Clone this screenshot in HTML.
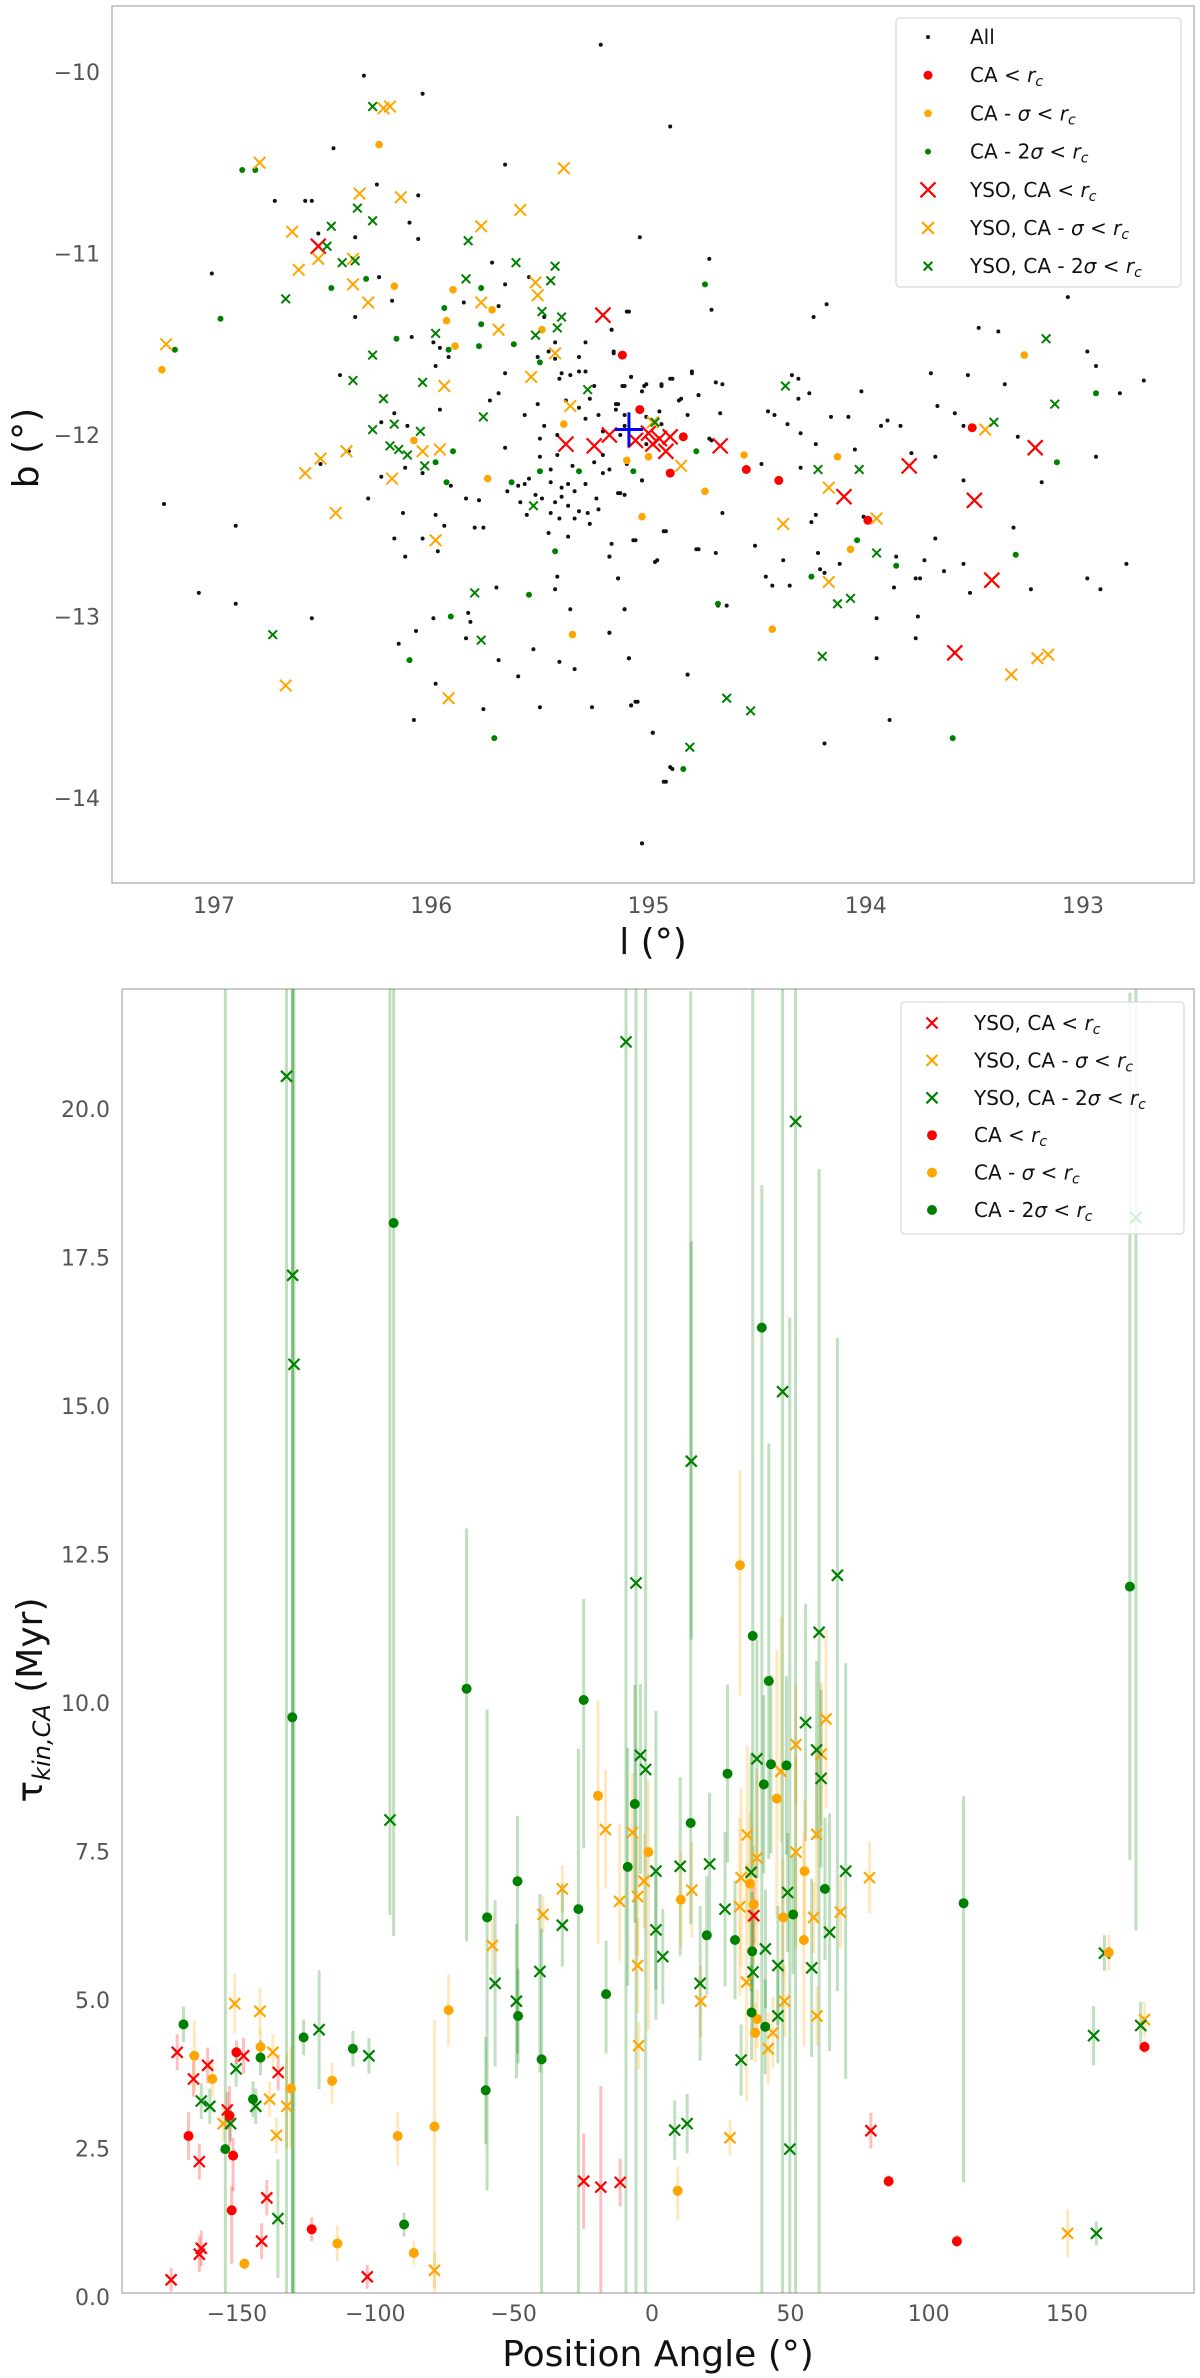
<!DOCTYPE html>
<html><head><meta charset="utf-8"><style>
html,body{margin:0;padding:0;background:#fff;}
svg{display:block;font-family:"DejaVu Sans","Liberation Sans",sans-serif;}
</style></head><body>
<svg id="fig" width="1200" height="2378" viewBox="0 0 1200 2378" xmlns="http://www.w3.org/2000/svg">
<defs>
<clipPath id="clipTop"><rect x="112" y="6" width="1082" height="877"/></clipPath>
<clipPath id="clipBot"><rect x="122" y="989" width="1072" height="1304"/></clipPath>
</defs>
<g id="top">
<rect x="112" y="6" width="1082" height="877" fill="#fff" stroke="#b8b8b8" stroke-width="1.5"/>
<g id="topMarks" clip-path="url(#clipTop)"></g>
<g id="topTicks" fill="#555" font-size="22"></g>
<text x="653" y="954" font-size="36" text-anchor="middle" fill="#111">l (°)</text>
<text transform="translate(38,448) rotate(-90)" font-size="36" text-anchor="middle" fill="#111">b (°)</text>
<g id="topLegend"></g>
</g>
<g id="bot">
<rect x="122" y="989" width="1072" height="1304" fill="#fff" stroke="#b8b8b8" stroke-width="1.5"/>
<g id="botMarks" clip-path="url(#clipBot)"></g>
<g id="botTicks" fill="#555" font-size="22"></g>
<text x="658" y="2366" font-size="36" text-anchor="middle" fill="#111">Position Angle (°)</text>
<text transform="translate(42,1700) rotate(-90)" font-size="36" text-anchor="middle" fill="#111"><tspan>τ</tspan><tspan font-size="24" font-style="italic" dy="8">kin,CA</tspan><tspan dy="-8"> (Myr)</tspan></text>
<g id="botLegend"></g>
</g>
</svg>
<script>
// ===== TOP PANEL DATA (l, b in degrees) =====
const allL=[195.22,196.31,196.04,194.90,196.45,195.66,196.72,196.58,196.55,196.25,196.06,196.10,196.06,195.04,196.52,196.35,197.01,196.24,196.18,196.35,195.72,195.66,195.55,195.85,195.69,196.09,195.99,195.96,195.98,195.92,195.66,195.69,195.73,195.96,196.42,195.46,195.43,195.51,195.29,195.32,195.17,195.10,195.16,195.40,195.36,195.32,195.29,195.41,195.25,195.27,195.12,195.08,195.02,195.03,194.94,194.90,194.80,194.86,194.77,195.15,195.32,195.29,195.23,195.38,195.51,195.57,195.48,195.42,195.21,195.13,195.15,195.11,194.95,194.72,195.50,195.50,195.66,195.42,195.45,195.35,195.25,195.21,195.21,195.18,195.10,195.03,195.14,195.11,195.45,195.40,195.37,195.34,195.29,195.24,195.23,195.28,195.32,195.37,195.40,195.43,195.45,195.49,195.52,195.57,195.55,195.65,195.60,195.59,195.56,195.41,195.34,195.27,195.46,195.37,195.17,195.07,194.93,194.78,194.97,195.18,195.14,195.42,195.43,195.36,195.11,195.18,195.53,195.41,195.34,195.09,195.60,195.70,195.83,195.82,195.84,195.99,196.07,196.15,195.69,195.98,196.08,195.76,195.50,195.26,195.08,195.06,194.98,194.90,194.93,194.82,195.03,195.76,195.80,195.94,195.98,196.13,196.17,196.04,196.12,195.97,196.29,195.84,195.78,195.91,196.23,196.04,196.12,196.17,196.11,196.23,197.23,196.90,197.07,196.90,196.55,196.38,196.51,195.43,195.48,
194.72,194.71,195.09,195.17,195.16,195.11,195.08,195.01,194.94,194.89,194.80,194.77,194.69,194.66,194.85,195.14,195.11,195.01,194.94,194.82,194.67,194.71,194.45,194.42,194.36,194.34,194.31,194.31,194.26,194.16,194.08,194.02,193.93,193.90,193.84,193.70,193.53,193.36,193.67,193.59,193.55,193.30,193.07,193.48,193.39,192.98,192.94,192.83,192.72,194.18,194.24,195.01,195.03,195.13,194.92,195.06,195.18,194.96,195.14,195.11,195.18,195.09,194.82,195.08,195.05,194.98,194.89,194.92,195.03,194.77,194.69,194.66,194.51,194.48,194.38,194.46,194.43,194.35,194.30,194.23,194.30,194.23,194.25,194.22,194.21,194.19,194.12,194.05,194.01,193.95,193.95,193.87,193.86,193.79,193.77,193.75,193.76,193.77,193.73,193.68,193.68,193.64,193.55,193.55,193.52,193.32,193.24,193.19,192.94,192.98,192.92,192.80,193.89,194.19,194.68,194.64];
const allB=[-9.85,-10.02,-10.12,-10.30,-10.42,-10.51,-10.71,-10.71,-10.71,-10.62,-10.68,-10.83,-10.92,-10.91,-10.89,-10.91,-11.11,-11.13,-11.26,-11.35,-11.05,-11.17,-11.13,-11.27,-11.29,-11.46,-11.49,-11.52,-11.62,-11.57,-11.66,-11.77,-11.81,-11.86,-11.67,-11.54,-11.58,-11.57,-11.49,-11.57,-11.42,-11.32,-11.55,-11.66,-11.67,-11.65,-11.65,-11.69,-11.73,-11.80,-11.73,-11.68,-11.73,-11.76,-11.73,-11.69,-11.66,-11.81,-11.78,-11.83,-11.85,-11.91,-11.89,-11.81,-11.83,-11.89,-11.95,-12.00,-11.98,-12.00,-11.86,-11.95,-11.87,-12.02,-12.02,-12.12,-12.07,-12.11,-12.19,-12.17,-12.15,-12.11,-12.21,-12.19,-12.16,-12.25,-12.32,-12.33,-12.26,-12.29,-12.27,-12.31,-12.27,-12.35,-12.41,-12.43,-12.42,-12.39,-12.34,-12.37,-12.43,-12.35,-12.33,-12.27,-12.24,-12.31,-12.28,-12.37,-12.44,-12.46,-12.46,-12.49,-12.54,-12.56,-12.60,-12.58,-12.53,-12.63,-12.70,-12.67,-12.79,-12.78,-12.85,-12.96,-12.96,-13.09,-13.18,-13.25,-13.29,-13.23,-13.33,-12.84,-12.98,-13.03,-13.12,-13.01,-13.08,-13.15,-13.24,-13.37,-13.57,-13.51,-13.50,-13.50,-13.49,-13.47,-13.64,-13.83,-13.91,-13.32,-14.25,-12.51,-12.51,-12.50,-12.44,-12.43,-12.57,-12.57,-12.67,-12.64,-12.35,-12.35,-12.36,-12.28,-12.23,-12.21,-12.18,-11.88,-11.95,-11.93,-12.38,-12.50,-12.87,-12.93,-13.01,-12.09,-12.16,-11.49,-11.35,
-11.03,-11.31,-11.32,-11.42,-11.54,-11.73,-11.68,-11.72,-11.72,-11.69,-11.65,-11.78,-11.71,-11.72,-11.80,-11.83,-11.89,-11.90,-11.94,-11.89,-11.88,-12.03,-11.87,-11.89,-11.94,-11.67,-11.69,-11.80,-11.77,-11.90,-11.90,-11.76,-11.95,-11.92,-11.95,-11.66,-11.67,-11.72,-11.84,-11.88,-11.95,-12.01,-11.24,-11.41,-11.43,-11.54,-11.62,-11.77,-11.70,-11.28,-11.35,-12.05,-12.25,-12.32,-12.53,-12.58,-12.67,-12.69,-12.79,-12.96,-13.09,-13.23,-13.32,-13.49,-13.47,-13.64,-13.84,-13.91,-14.25,-12.63,-12.65,-12.43,-12.61,-12.16,-12.69,-12.78,-12.83,-12.83,-12.18,-12.05,-11.99,-12.44,-12.48,-12.65,-12.74,-12.76,-12.71,-12.08,-12.45,-13.01,-13.23,-12.84,-12.67,-12.10,-12.79,-12.79,-13.00,-13.12,-12.69,-12.12,-12.57,-12.75,-12.25,-12.71,-12.87,-12.51,-12.85,-12.26,-12.12,-12.79,-12.85,-12.71,-13.57,-13.70,-12.94,-12.94];
const caRedL=[195.12,195.04,194.84,194.90,194.55,194.40,193.99,193.51];
const caRedB=[-11.56,-11.86,-12.01,-12.21,-12.19,-12.25,-12.47,-11.96];
const caOrL=[196.24,196.17,195.90,195.72,195.93,195.89,195.49,197.24,196.08,195.74,195.10,195.00,195.03,195.35,194.74,195.39,193.27,194.56,194.13,194.07,194.43];
const caOrB=[-10.40,-11.18,-11.20,-11.31,-11.37,-11.51,-11.42,-11.64,-12.03,-12.24,-12.14,-12.12,-12.45,-13.10,-12.31,-11.94,-11.56,-12.11,-12.12,-12.63,-13.07];
const caGrL=[196.87,196.81,196.97,197.18,196.46,196.30,196.16,195.94,195.92,195.78,195.77,195.77,195.62,195.50,195.90,195.98,195.93,195.63,195.50,195.32,195.07,194.78,194.74,195.43,195.55,195.91,196.10,195.71,194.84,194.04,193.86,194.25,193.31,193.12,192.94,194.68,193.60];
const caGrB=[-10.54,-10.54,-11.36,-11.53,-11.19,-11.14,-11.47,-11.30,-11.53,-11.51,-11.39,-11.19,-11.50,-11.60,-12.09,-12.15,-12.26,-12.26,-12.20,-12.20,-12.20,-12.09,-11.17,-12.64,-12.88,-13.00,-13.24,-13.67,-13.84,-12.58,-12.72,-12.78,-12.66,-12.15,-11.77,-12.93,-13.67];
const ysoRedL=[196.52,195.21,195.38,195.25,195.18,195.06,195.00,194.95,194.90,194.98,194.92,194.67,193.80,194.10,193.50,193.22,193.42,193.59];
const ysoRedB=[-10.96,-11.34,-12.05,-12.06,-12.00,-12.03,-11.99,-12.02,-12.01,-12.05,-12.09,-12.06,-12.17,-12.34,-12.36,-12.07,-12.80,-13.20];
const ysoOrL=[196.22,196.19,196.79,195.39,196.33,196.14,196.64,195.59,195.77,196.52,196.36,196.61,196.36,196.29,195.77,195.52,195.51,195.69,197.22,195.43,195.54,195.94,195.36,194.98,196.04,195.96,196.39,196.51,196.58,196.18,194.85,196.44,195.98,196.67,195.92,193.45,194.17,193.95,194.38,194.17,193.33,193.21,193.16];
const ysoOrB=[-10.20,-10.19,-10.50,-10.53,-10.67,-10.69,-10.88,-10.76,-10.85,-11.03,-11.03,-11.09,-11.17,-11.27,-11.27,-11.16,-11.23,-11.42,-11.50,-11.55,-11.68,-11.73,-11.84,-11.93,-12.09,-12.08,-12.09,-12.13,-12.21,-12.24,-12.17,-12.43,-12.58,-13.38,-13.45,-11.97,-12.29,-12.46,-12.49,-12.81,-13.32,-13.23,-13.21];
const ysoGrL=[196.27,196.34,196.27,196.46,196.48,196.41,196.35,196.67,195.83,195.84,195.61,195.43,195.45,195.49,195.40,195.42,195.52,195.98,196.27,196.36,196.04,196.22,196.17,196.27,196.05,196.19,196.15,196.11,196.03,195.76,195.28,194.97,195.53,195.80,195.77,196.73,194.81,194.37,194.22,194.03,193.17,193.13,193.41,193.95,194.13,194.07,194.20,194.64,194.53];
const ysoGrB=[-10.19,-10.75,-10.82,-10.85,-10.96,-11.05,-11.04,-11.25,-10.93,-11.14,-11.05,-11.07,-11.15,-11.32,-11.35,-11.41,-11.45,-11.44,-11.56,-11.70,-11.71,-11.80,-11.94,-11.97,-11.98,-12.06,-12.08,-12.11,-12.17,-11.90,-11.75,-11.93,-12.39,-12.87,-13.13,-13.10,-13.72,-11.73,-12.19,-12.19,-11.47,-11.83,-11.93,-12.65,-12.93,-12.90,-13.22,-13.45,-13.52];
const centerLB=[195.09,-11.97];
const centerErr=[0.065,0.095];
const topXTicks=[197,196,195,194,193];
const topYTicks=[-10,-11,-12,-13,-14];

// ===== BOTTOM PANEL DATA (position angle deg, tau Myr, lower/upper errors) =====
const yRedPA=[-171.6,-165.7,-160.6,-147.6,-135.1,-153.5,-163.6,-139.2,-162.9,-163.6,-141.1,-173.8,-102.9,-24.7,-18.5,-11.5,36.8,79.1];
const yRedT=[4.12,3.67,3.90,4.06,3.78,3.15,2.28,1.67,0.82,0.72,0.94,0.29,0.34,1.95,1.85,1.93,6.42,2.80];
const yRedLo=[0.3,0.3,0.3,0.3,0.3,0.3,0.3,0.3,0.3,0.3,0.3,0.2,0.2,0.8,1.85,0.4,0.5,0.3];
const yRedHi=[0.3,0.3,0.3,0.3,0.3,0.3,0.3,0.3,0.3,0.3,0.3,0.2,0.2,0.8,1.7,0.4,0.5,0.3];
const cRedPA=[-167.5,-150.2,-152.7,-151.4,-151.9,-123.0,85.5,110.2,178.0];
const cRedT=[2.71,4.12,3.05,2.38,1.46,1.14,1.95,0.94,4.21];
const cRedLo=[0.4,0.2,0.5,0.6,0.9,0.2,0.1,0.1,0.1];
const cRedHi=[0.4,0.2,0.5,0.3,0.4,0.2,0.1,0.1,0.1];
const yOrPA=[-150.8,-141.7,-137.0,-138.2,-132.0,-155.0,-135.7,-78.6,-57.7,-39.4,-32.4,-16.8,-7.1,-11.7,-5.2,-2.9,-5.2,-4.8,34.4,37.9,32.2,31.7,52.0,62.9,61.1,46.6,59.5,52.0,78.6,58.4,68.1,14.4,34.2,17.6,47.9,59.6,43.7,42.0,28.2,150.2,178.0];
const yOrT=[4.94,4.81,4.12,3.33,3.21,2.92,2.72,0.45,5.92,6.44,6.87,7.87,7.82,6.66,6.74,7.00,5.58,4.23,7.78,7.39,7.06,6.57,9.30,9.73,9.14,8.85,7.79,7.49,7.06,6.39,6.48,6.85,5.30,4.98,4.98,4.73,4.45,4.18,2.68,1.07,4.67];
const yOrLo=[0.5,0.4,0.3,0.3,0.7,0.3,0.3,0.3,0.5,0.3,0.4,1.0,1.0,1.0,1.0,0.8,0.8,0.4,1.5,1.5,1.5,1.5,1.0,1.5,1.2,1.2,1.5,1.6,0.6,0.6,0.6,0.8,2.0,0.6,0.6,0.5,0.6,0.6,0.3,0.4,0.3];
const yOrHi=[0.5,0.4,0.3,0.3,0.9,0.3,0.3,0.3,0.5,0.3,0.4,1.0,1.0,1.3,1.0,0.8,0.8,0.4,1.5,1.5,1.5,1.5,1.0,1.5,1.2,2.6,1.5,1.6,0.6,0.6,0.6,0.8,2.0,0.6,0.6,0.5,0.6,0.6,0.3,0.4,0.3];
const cOrPA=[-165.4,-158.9,-141.5,-130.5,-115.6,-147.3,-113.7,-91.9,-86.1,-78.6,-73.5,-19.5,-1.3,31.8,45.1,55.1,10.4,35.4,36.8,47.4,54.9,38.0,37.3,9.3,165.1];
const cOrT=[4.06,3.67,4.21,3.51,3.64,0.56,0.90,2.71,0.74,2.87,4.83,8.44,7.49,12.32,8.39,7.17,6.69,6.96,6.61,6.39,6.01,4.68,4.45,1.79,5.80];
const cOrLo=[0.6,0.3,0.3,1.0,0.4,0.1,0.3,0.5,0.2,2.87,0.6,2.5,3.0,2.2,2.0,1.2,0.8,1.2,1.0,1.0,1.8,0.5,0.5,0.5,0.3];
const cOrHi=[0.6,0.3,0.3,0.7,0.3,0.1,0.3,0.4,0.2,1.8,0.6,1.6,1.2,1.6,2.5,1.2,0.8,1.2,1.0,1.0,1.8,0.5,0.5,0.4,0.3];
const yGrPA=[-132.1,-129.9,-129.4,-9.4,51.9,47.2,14.2,174.9,-5.8,-4.2,-2.3,-94.7,-56.7,-49.0,-40.5,-32.4,-120.3,-102.3,-150.3,-162.9,-159.8,-143.2,-152.3,-135.2,1.4,1.4,67.0,60.4,55.5,59.5,37.9,61.1,10.2,20.8,35.8,70.0,49.0,26.4,3.9,64.2,41.0,36.5,45.5,57.7,17.4,45.5,32.2,8.2,12.7,49.8,159.6,163.5,176.6,160.6];
const yGrT=[20.55,17.2,15.7,21.13,19.79,15.24,14.07,18.17,12.02,9.12,8.88,8.03,5.28,4.98,5.48,6.26,4.50,4.06,3.84,3.30,3.21,3.21,2.92,1.32,7.17,6.18,12.15,11.19,9.67,9.21,9.06,8.73,7.25,7.29,7.15,7.17,6.81,6.53,5.73,6.14,5.86,5.47,5.58,5.54,5.28,4.73,3.99,2.81,2.92,2.49,4.40,5.79,4.57,1.07];
const yGrLo=[20.55,17.2,15.7,21.13,19.79,15.24,3.0,12.0,12.02,2.0,8.88,1.6,1.4,1.3,1.7,0.7,1.0,0.3,0.3,0.3,0.3,0.3,0.3,1.0,2.5,1.0,7.0,11.19,2.0,1.5,2.0,1.5,1.5,1.2,2.0,3.5,1.0,1.3,0.8,2.0,1.0,1.0,1.0,1.5,1.3,0.8,0.6,0.5,0.5,2.49,0.5,0.3,0.4,0.2];
const yGrHi=[3.0,5.0,7.0,2.0,3.0,7.0,3.7,4.0,10.0,1.2,14.0,15.0,1.4,1.3,1.3,0.7,1.0,0.3,0.3,0.3,0.3,0.3,0.3,1.0,2.7,1.0,4.0,7.8,2.0,1.5,2.0,1.5,1.5,1.2,2.0,3.5,1.0,1.3,0.8,2.0,1.0,1.0,1.0,1.5,1.3,0.8,0.6,0.5,0.5,14.0,0.5,0.3,0.4,0.2];
const cGrPA=[-169.3,-130.0,-67.0,-24.7,-125.9,-108.1,-144.2,-141.5,-154.2,-89.6,-59.6,-48.6,-60.1,-48.4,-39.9,-26.6,-16.6,-8.8,-6.2,-93.4,39.7,36.4,42.2,27.3,43.0,48.6,40.4,14.0,62.5,51.0,19.8,30.0,36.2,36.0,40.9,112.6,172.7];
const cGrT=[4.59,9.76,10.24,10.05,4.37,4.18,3.33,4.03,2.49,1.22,6.39,7.00,3.48,4.73,4.00,6.53,5.10,7.24,8.30,18.08,16.32,11.13,10.37,8.81,8.97,8.95,8.63,7.98,6.87,6.44,6.09,6.01,5.82,4.79,4.55,6.63,11.96];
const cGrLo=[0.3,9.76,4.25,2.5,0.3,0.3,0.3,0.3,2.49,0.2,4.6,2.9,0.9,0.8,4.0,6.5,1.0,2.0,2.0,12.0,16.32,4.0,3.0,1.5,1.5,1.5,1.5,1.7,1.2,1.0,1.0,1.0,1.0,0.8,0.8,4.7,4.6];
const cGrHi=[0.3,13.0,2.7,1.7,0.3,0.3,0.3,0.3,20.0,0.2,3.5,1.1,0.9,0.8,2.2,2.7,0.9,2.0,2.0,5.0,2.4,11.0,4.0,1.5,1.5,1.5,1.5,14.0,1.2,1.0,1.0,1.0,1.0,0.8,0.8,1.8,10.0];
const botXTicks=[-150,-100,-50,0,50,100,150];
const botYTicks=[0.0,2.5,5.0,7.5,10.0,12.5,15.0,17.5,20.0];

const NS='http://www.w3.org/2000/svg';
function mk(tag,attrs,parent){const e=document.createElementNS(NS,tag);for(const k in attrs)e.setAttribute(k,attrs[k]);parent.appendChild(e);return e;}
function xTop(l){return 214+(197-l)*217.25;}
function yTop(b){return 72+(-10-b)*181.5;}
function xBot(pa){return 652+pa*2.767;}
function yBot(t){return 2297-t*59.4;}
const RED='#ff0000',ORG='#ffa500',GRN='#008000';

function dot(g,x,y,r,c,name){const e=mk('circle',{cx:x.toFixed(1),cy:y.toFixed(1),r:r,fill:c},g);

return e;}
function xm(g,x,y,h,c,w,name){const p=mk('path',{d:`M${(x-h).toFixed(1)} ${(y-h).toFixed(1)}L${(x+h).toFixed(1)} ${(y+h).toFixed(1)}M${(x-h).toFixed(1)} ${(y+h).toFixed(1)}L${(x+h).toFixed(1)} ${(y-h).toFixed(1)}`,stroke:c,'stroke-width':w,fill:'none'},g);

return p;}

const tm=document.getElementById('topMarks');
allL.forEach((l,i)=>dot(tm,xTop(l),yTop(allB[i]),2,'#111','all-star-point'));
caRedL.forEach((l,i)=>dot(tm,xTop(l),yTop(caRedB[i]),4.5,RED,'ca-red-point'));
caOrL.forEach((l,i)=>dot(tm,xTop(l),yTop(caOrB[i]),3.8,ORG,'ca-sigma-point'));
caGrL.forEach((l,i)=>dot(tm,xTop(l),yTop(caGrB[i]),3,GRN,'ca-2sigma-point'));
ysoRedL.forEach((l,i)=>xm(tm,xTop(l),yTop(ysoRedB[i]),7.5,RED,2.2,'yso-red-marker'));
ysoOrL.forEach((l,i)=>xm(tm,xTop(l),yTop(ysoOrB[i]),5.8,ORG,2,'yso-sigma-marker'));
ysoGrL.forEach((l,i)=>xm(tm,xTop(l),yTop(ysoGrB[i]),4.3,GRN,2,'yso-2sigma-marker'));
{const cx=xTop(centerLB[0]),cy=yTop(centerLB[1]);
const c=mk('path',{d:`M${xTop(centerLB[0]+centerErr[0])} ${cy}L${xTop(centerLB[0]-centerErr[0])} ${cy}M${cx} ${yTop(centerLB[1]+centerErr[1])}L${cx} ${yTop(centerLB[1]-centerErr[1])}`,stroke:'#0000ff','stroke-width':3},tm);

}
const tt=document.getElementById('topTicks');
topXTicks.forEach(v=>{const t=mk('text',{x:xTop(v),y:913,'text-anchor':'middle'},tt);t.textContent=String(v);

});
topYTicks.forEach(v=>{const t=mk('text',{x:100,y:yTop(v)+8,'text-anchor':'end'},tt);t.textContent=String(v).replace('-','\u2212');

});

const bm=document.getElementById('botMarks');
function ebars(pa,t,lo,hi,col){pa.forEach((p,i)=>{const l=mk('line',{x1:xBot(p),x2:xBot(p),y1:yBot(t[i]-lo[i]),y2:yBot(t[i]+hi[i]),stroke:col,'stroke-width':3,'stroke-opacity':0.25},bm);

});}
ebars(yRedPA,yRedT,yRedLo,yRedHi,RED);
ebars(yOrPA,yOrT,yOrLo,yOrHi,ORG);
ebars(yGrPA,yGrT,yGrLo,yGrHi,GRN);
ebars(cRedPA,cRedT,cRedLo,cRedHi,RED);
ebars(cOrPA,cOrT,cOrLo,cOrHi,ORG);
ebars(cGrPA,cGrT,cGrLo,cGrHi,GRN);
yRedPA.forEach((p,i)=>xm(bm,xBot(p),yBot(yRedT[i]),5.5,RED,2.2,'yso-red-tau-marker'));
yOrPA.forEach((p,i)=>xm(bm,xBot(p),yBot(yOrT[i]),5.5,ORG,2.2,'yso-sigma-tau-marker'));
yGrPA.forEach((p,i)=>xm(bm,xBot(p),yBot(yGrT[i]),5.5,GRN,2.2,'yso-2sigma-tau-marker'));
cRedPA.forEach((p,i)=>dot(bm,xBot(p),yBot(cRedT[i]),5,RED,'ca-red-tau-point'));
cOrPA.forEach((p,i)=>dot(bm,xBot(p),yBot(cOrT[i]),5,ORG,'ca-sigma-tau-point'));
cGrPA.forEach((p,i)=>dot(bm,xBot(p),yBot(cGrT[i]),5,GRN,'ca-2sigma-tau-point'));
const bt=document.getElementById('botTicks');
botXTicks.forEach(v=>{const t=mk('text',{x:xBot(v),y:2321,'text-anchor':'middle'},bt);t.textContent=String(v).replace('-','\u2212');

});
botYTicks.forEach(v=>{const t=mk('text',{x:110,y:yBot(v)+8,'text-anchor':'end'},bt);t.textContent=v.toFixed(1);

});

function legend(gid,x0,y0,w,h,rows,mx,tx,ry,dy){
const g=document.getElementById(gid);
const r=mk('rect',{x:x0,y:y0,width:w,height:h,rx:4,fill:'#fff','fill-opacity':0.85,stroke:'#d8d8d8','stroke-width':1.2},g);


rows.forEach((row,i)=>{const y=ry+i*dy;
if(row.k==='x')xm(g,mx,y,row.s,row.c,2.2,'legend-marker');else dot(g,mx,y,row.s,row.c,'legend-marker');
const t=mk('text',{x:tx,y:y+7,'font-size':20,fill:'#111'},g);t.innerHTML=row.t;

});}
const rc='r<tspan font-size="14" dy="4">c</tspan>';
legend('topLegend',896,18,285,269,[
{k:'d',c:'#111',s:2,t:'All'},
{k:'d',c:RED,s:4.5,t:'CA &lt; <tspan font-style="italic">'+rc+'</tspan>'},
{k:'d',c:ORG,s:3.8,t:'CA - <tspan font-style="italic">σ</tspan> &lt; <tspan font-style="italic">'+rc+'</tspan>'},
{k:'d',c:GRN,s:3,t:'CA - 2<tspan font-style="italic">σ</tspan> &lt; <tspan font-style="italic">'+rc+'</tspan>'},
{k:'x',c:RED,s:7.5,t:'YSO, CA &lt; <tspan font-style="italic">'+rc+'</tspan>'},
{k:'x',c:ORG,s:5.8,t:'YSO, CA - <tspan font-style="italic">σ</tspan> &lt; <tspan font-style="italic">'+rc+'</tspan>'},
{k:'x',c:GRN,s:4.3,t:'YSO, CA - 2<tspan font-style="italic">σ</tspan> &lt; <tspan font-style="italic">'+rc+'</tspan>'}],
928,970,37,38.2);
legend('botLegend',901,1002,283,232,[
{k:'x',c:RED,s:5.5,t:'YSO, CA &lt; <tspan font-style="italic">'+rc+'</tspan>'},
{k:'x',c:ORG,s:5.5,t:'YSO, CA - <tspan font-style="italic">σ</tspan> &lt; <tspan font-style="italic">'+rc+'</tspan>'},
{k:'x',c:GRN,s:5.5,t:'YSO, CA - 2<tspan font-style="italic">σ</tspan> &lt; <tspan font-style="italic">'+rc+'</tspan>'},
{k:'d',c:RED,s:5,t:'CA &lt; <tspan font-style="italic">'+rc+'</tspan>'},
{k:'d',c:ORG,s:5,t:'CA - <tspan font-style="italic">σ</tspan> &lt; <tspan font-style="italic">'+rc+'</tspan>'},
{k:'d',c:GRN,s:5,t:'CA - 2<tspan font-style="italic">σ</tspan> &lt; <tspan font-style="italic">'+rc+'</tspan>'}],
932,974,1023,37.4);
</script>
</body></html>
